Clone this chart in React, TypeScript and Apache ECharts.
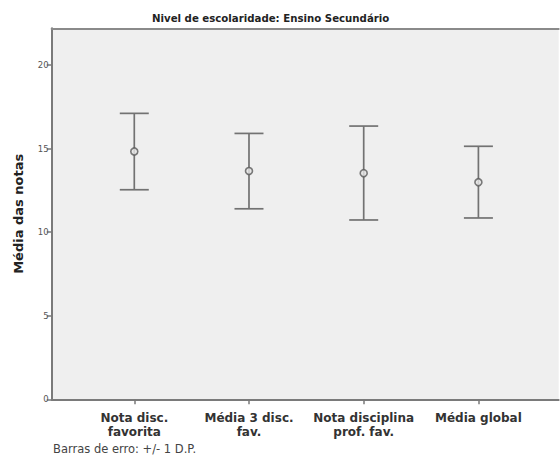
import React, { useEffect, useRef } from "react";
import * as echarts from "echarts";

// Groups and their statistics (mean with ±1 standard deviation)
const categories = [
  "Nota disc.\nfavorita",
  "Média 3 disc.\nfav.",
  "Nota disciplina\nprof. fav.",
  "Média global",
];
const means = [14.83, 13.66, 13.53, 12.99];
const lower = [12.54, 11.4, 10.73, 10.85];
const upper = [17.11, 15.91, 16.35, 15.14];
const yTicks = [0, 5, 10, 15, 20];

const FONT = "DejaVu Sans";
const BAR_COLOR = "#727272";

export default function App() {
  const ref = useRef<HTMLDivElement>(null);

  useEffect(() => {
    if (!ref.current) return;
    const chart = echarts.init(ref.current, undefined, { renderer: "svg" });
    const positions = categories.map((_, i) => i);

    chart.setOption({
      animation: false,
      backgroundColor: "#ffffff",
      title: {
        text: "Nivel de escolaridade: Ensino Secundário",
        left: 147,
        top: 8,
        textStyle: { fontFamily: FONT, fontSize: 10.2, fontWeight: "bold", color: "#222" },
      },
      grid: {
        left: 51.7,
        right: 1.3,
        top: 28.3,
        bottom: 56.7,
        show: true,
        backgroundColor: "#efefef",
        borderWidth: 0,
        outerBoundsMode: "none",
      },
      xAxis: [
        {
          type: "value",
          min: -0.72,
          max: 3.7,
          position: "bottom",
          splitLine: { show: false },
          axisLine: { show: true, onZero: false, lineStyle: { color: "#7a7a7a", width: 2 } },
          axisTick: {
            show: true,
            customValues: positions,
            length: 5,
            lineStyle: { color: "#7a7a7a", width: 1.5 },
          },
          axisLabel: {
            customValues: positions,
            formatter: (v: number) => categories[Math.round(v)] ?? "",
            fontFamily: FONT,
            fontSize: 12,
            fontWeight: "bold",
            color: "#333",
            lineHeight: 14.5,
            margin: 11,
          },
        },
        {
          type: "value",
          min: -0.72,
          max: 3.7,
          position: "top",
          splitLine: { show: false },
          axisLine: { show: true, onZero: false, lineStyle: { color: "#8a8a8a", width: 2 } },
          axisTick: { show: false },
          axisLabel: { show: false },
        },
      ],
      yAxis: {
        type: "value",
        min: 0,
        max: 22.2,
        name: "Média das notas",
        nameLocation: "middle",
        nameGap: 27,
        nameTextStyle: { fontFamily: FONT, fontSize: 13, fontWeight: "bold", color: "#222" },
        splitLine: { show: false },
        axisLine: { show: true, onZero: false, lineStyle: { color: "#7a7a7a", width: 2 } },
        axisTick: {
          show: true,
          customValues: yTicks,
          length: 5,
          lineStyle: { color: "#7a7a7a", width: 1.5 },
        },
        axisLabel: {
          customValues: yTicks,
          fontFamily: FONT,
          fontSize: 8.5,
          color: "#555",
          margin: 3,
        },
      },
      graphic: [
        {
          type: "text",
          left: 53,
          top: 443,
          style: {
            text: "Barras de erro: +/- 1 D.P.",
            fontFamily: FONT,
            fontSize: 11.5,
            fill: "#444",
          },
        },
      ],
      series: [
        {
          type: "custom",
          xAxisIndex: 0,
          data: positions.map((p, i) => [p, lower[i], upper[i]]),
          renderItem: (params: any, api: any) => {
            const x = api.value(0);
            const lo = api.coord([x, api.value(1)]);
            const hi = api.coord([x, api.value(2)]);
            const half = 14.5;
            const style = { stroke: BAR_COLOR, lineWidth: 1.7 };
            return {
              type: "group",
              children: [
                { type: "line", shape: { x1: lo[0], y1: lo[1], x2: hi[0], y2: hi[1] }, style },
                { type: "line", shape: { x1: hi[0] - half, y1: hi[1], x2: hi[0] + half, y2: hi[1] }, style },
                { type: "line", shape: { x1: lo[0] - half, y1: lo[1], x2: lo[0] + half, y2: lo[1] }, style },
              ],
            };
          },
          z: 2,
        },
        {
          type: "scatter",
          xAxisIndex: 0,
          data: positions.map((p, i) => [p, means[i]]),
          symbol: "circle",
          symbolSize: 7,
          itemStyle: { color: "#e6e6e6", borderColor: "#5a5a5a", borderWidth: 1.6 },
          z: 3,
        },
      ],
    });

    return () => chart.dispose();
  }, []);

  return (
    <div
      ref={ref}
      style={{ position: "fixed", left: 0, top: 0, width: 560, height: 456 }}
    />
  );
}
